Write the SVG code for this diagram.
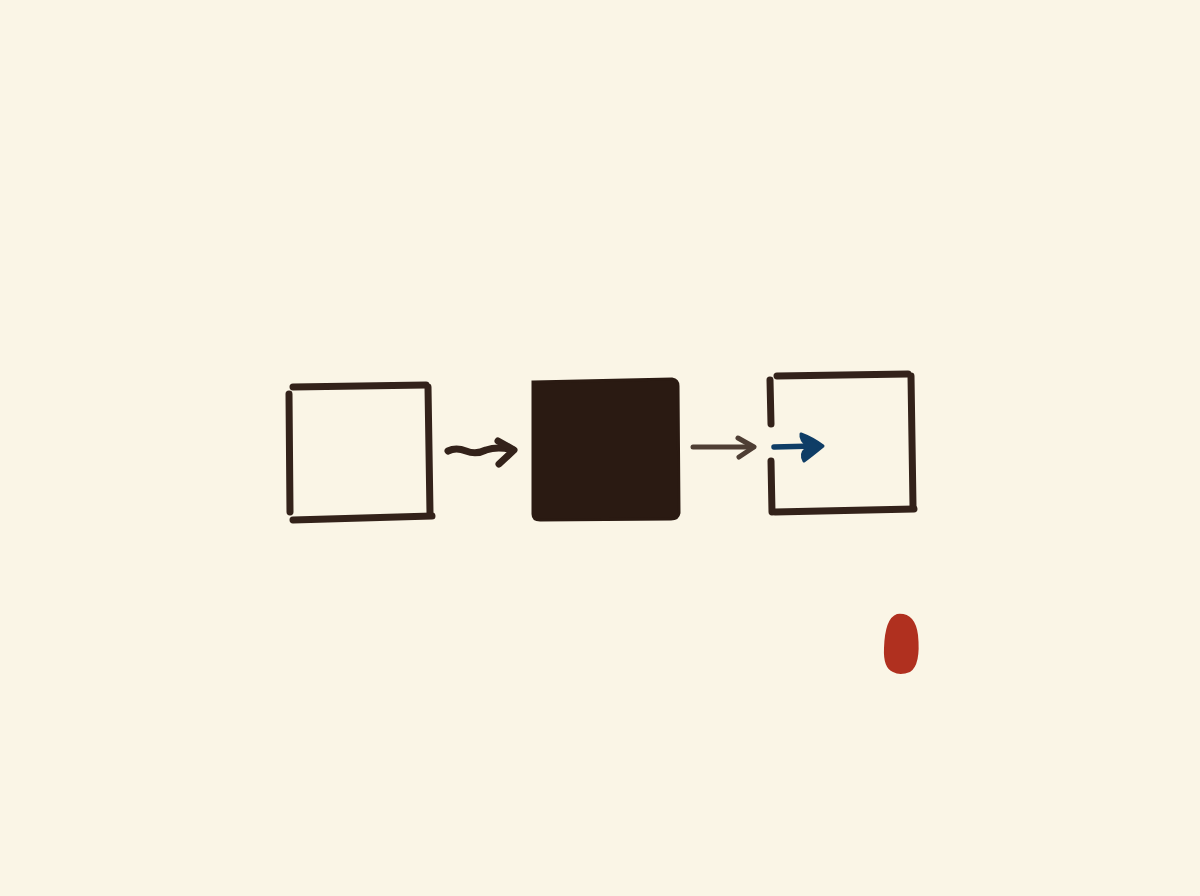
<svg xmlns="http://www.w3.org/2000/svg" width="1200" height="896" viewBox="0 0 1200 896">
<style>
.ink{fill:none;stroke:#33221a;stroke-width:7;stroke-linecap:round;stroke-linejoin:round}
.thin{fill:none;stroke:#4e3e34;stroke-width:5;stroke-linecap:round;stroke-linejoin:round}
.blue{fill:none;stroke:#0f3d66;stroke-width:5.5;stroke-linecap:round;stroke-linejoin:round}
</style>
<rect width="1200" height="896" fill="#faf5e6"/>
<g id="box1">
<path class="ink" d="M289 394 L290 512"/>
<path class="ink" d="M293 387 L426 385"/>
<path class="ink" d="M428 387 L430 513"/>
<path class="ink" d="M293 520 L432 516"/>
</g>
<g id="box2">
<path d="M533 382 L672 379 Q678 380 678 386 L679 513 Q678 519 671 519 L540 520 Q533 520 533 514 Z" fill="#2a1a12" stroke="#2a1a12" stroke-width="3"/>
</g>
<g id="box3">
<path class="ink" d="M770 380 L771 424"/>
<path class="ink" d="M771 461 L772 512"/>
<path class="ink" d="M777 376 L908 374"/>
<path class="ink" d="M911 376 L913 506"/>
<path class="ink" d="M775 512 L914 509"/>
</g>
<g id="dot">
<path d="M897 614 Q915 612 918 635 Q921 665 910 672 Q900 676 893 672 Q883 668 884 648 Q885 618 897 614 Z" fill="#b0301f"/>
</g>
<g id="connectors">
<path class="ink" d="M448 451 Q456 447 466 451 Q476 455 486 450 Q498 446 513 450"/>
<path class="ink" d="M498 441 L514 450 L499 464"/>
<path class="thin" d="M693 447 L753 447"/>
<path class="thin" d="M738 438 L754 447 L739 457"/>
<path class="blue" d="M774 447 L815 446"/>
<path d="M801 434 Q812 438 823 446 Q812 455 804 461 Q800 454 806 449 L808 446 Q800 440 801 434 Z" fill="#0f3d66" stroke="#0f3d66" stroke-width="3" stroke-linejoin="round"/>
</g>
</svg>
